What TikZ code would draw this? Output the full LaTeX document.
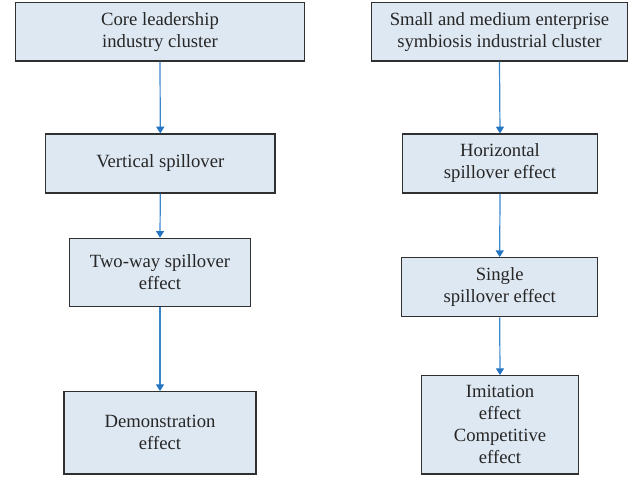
\documentclass[tikz,border=0pt]{standalone}
\usepackage{fontspec}
\setmainfont{Liberation Serif}
\usetikzlibrary{arrows.meta}
\definecolor{boxfill}{HTML}{DEE8F2}
\definecolor{boxline}{HTML}{303030}
\definecolor{flow}{HTML}{3A86CC}
\definecolor{flowtip}{HTML}{2474C0}
\begin{document}
\begin{tikzpicture}[x=0.75pt,y=-0.75pt,
  stage/.style={draw=boxline,fill=boxfill,line width=0.9pt,rectangle,
    align=center,inner sep=0pt,font=\fontsize{14}{16.5}\selectfont,text=black!85},
  flowline/.style={draw=flow,line width=0.9pt,
    -{Triangle[width=6pt,length=5pt,color=flowtip]}}]
\useasboundingbox (0,0) rectangle (637,477);
% left column
\node[stage,minimum width=288.3*0.75pt,minimum height=58.7*0.75pt] (l1) at (160,31.7) {Core leadership\\industry cluster};
\node[stage,minimum width=229.3*0.75pt,minimum height=59*0.75pt] (l2) at (160.3,163.5) {Vertical spillover};
\node[stage,minimum width=180.6*0.75pt,minimum height=68.4*0.75pt] (l3) at (160,272.5) {Two-way spillover\\effect};
\node[stage,minimum width=192*0.75pt,minimum height=82.3*0.75pt] (l4) at (160,432.8) {Demonstration\\effect};
% right column
\node[stage,minimum width=255.6*0.75pt,minimum height=58.7*0.75pt] (r1) at (499.5,31.7) {Small and medium enterprise\\symbiosis industrial cluster};
\node[stage,minimum width=195.4*0.75pt,minimum height=59*0.75pt] (r2) at (500,163.5) {Horizontal\\spillover effect};
\node[stage,minimum width=196*0.75pt,minimum height=59*0.75pt] (r3) at (499.7,287.2) {Single\\spillover effect};
\node[stage,minimum width=156.6*0.75pt,minimum height=98.3*0.75pt] (r4) at (500,424.8) {Imitation\\effect\\Competitive\\effect};
% connectors
\draw[flowline] (l1.south) -- (l2.north);
\draw[flowline] (l2.south) -- (l3.north);
\draw[flowline] (l3.south) -- (l4.north);
\draw[flowline] (r1.south) -- (r2.north);
\draw[flowline] (r2.south) -- (r3.north);
\draw[flowline] (r3.south) -- (r4.north);
\end{tikzpicture}
\end{document}
